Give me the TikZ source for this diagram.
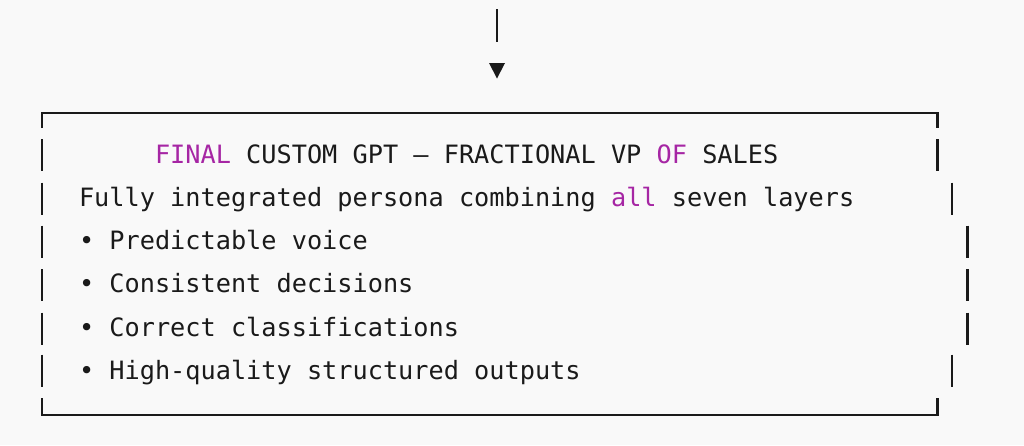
\documentclass[tikz,border=0pt]{standalone}
\usepackage{fontspec}
\setmonofont{DejaVu Sans Mono}
\definecolor{bg}{HTML}{F9F9F9}
\definecolor{ink}{HTML}{1A1A1A}
\definecolor{kw}{HTML}{A626A4}
\begin{document}
\begin{tikzpicture}[x=1pt,y=-1pt,
  txt/.style={anchor=base west,inner sep=0pt,outer sep=0pt,
    font=\fontsize{25.25}{30}\selectfont\ttfamily,text=ink},
  frame/.style={draw=ink,line width=2.5pt},
  kwd/.style={text=kw}]
\fill[bg] (0,0) rectangle (1024,445);
\useasboundingbox (0,0) rectangle (1024,445);
% incoming arrow
\coordinate (arrtop) at (497,9);
\coordinate (arrbot) at (497,42);
\draw[frame] (arrtop) -- (arrbot);
\fill[ink] (489,63) -- (505,63) -- (497,78.5) -- cycle;
% box corners
\coordinate (tl) at (42,113);
\coordinate (tr) at (937.5,113);
\coordinate (bl) at (42,415);
\coordinate (br) at (937.5,415);
\draw[frame] ([yshift=-15pt]tl) -- (tl) -- (tr) -- ([yshift=-15pt]tr);
\draw[frame] ([yshift=17pt]bl) -- (bl) -- (br) -- ([yshift=17pt]br);
% side bars per text row
\foreach \yy/\xr in {155/937.5,198.5/952,241.5/967.5,285/967.5,328.5/967.5,370.5/952}{
  \draw[frame] (42,\yy-16) -- (42,\yy+16);
  \draw[frame] (\xr,\yy-16) -- (\xr,\yy+16);
}
% text
\node[txt] (title) at (155,163) {\textcolor{kw}{FINAL} CUSTOM GPT — FRACTIONAL VP \textcolor{kw}{OF} SALES};
\node[txt] (sub) at (79,206.3) {Fully integrated persona combining \textcolor{kw}{all} seven layers};
\node[txt] (b1) at (79,249.6) {• Predictable voice};
\node[txt] (b2) at (79,292.9) {• Consistent decisions};
\node[txt] (b3) at (79,336.2) {• Correct classifications};
\node[txt] (b4) at (79,379.5) {• High-quality structured outputs};
\end{tikzpicture}
\end{document}
